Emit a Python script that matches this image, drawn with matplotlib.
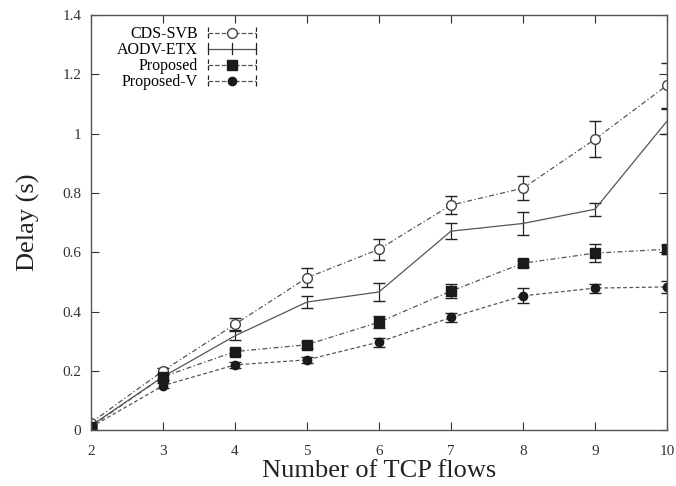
import matplotlib
matplotlib.use('Agg')
import matplotlib.pyplot as plt
from matplotlib.lines import Line2D
from matplotlib.legend_handler import HandlerBase

plt.rcParams['font.family'] = ['Liberation Serif', 'DejaVu Serif']

flows = [2, 3, 4, 5, 6, 7, 8, 9, 10]

cds_svb = [0.025, 0.20, 0.357, 0.514, 0.61, 0.759, 0.816, 0.981, 1.163]
cds_svb_err = [0.005, 0.01, 0.02, 0.032, 0.036, 0.03, 0.04, 0.06, 0.075]

aodv_etx = [0.015, 0.18, 0.318, 0.432, 0.466, 0.671, 0.697, 0.745, 1.042]
aodv_etx_err = [0.005, 0.01, 0.015, 0.02, 0.03, 0.027, 0.04, 0.022, 0.042]

proposed = [0.012, 0.18, 0.265, 0.288, 0.364, 0.469, 0.563, 0.597, 0.61]
proposed_err = [0.005, 0.01, 0.01, 0.01, 0.02, 0.025, 0.012, 0.03, 0.015]

proposed_v = [0.01, 0.15, 0.22, 0.237, 0.297, 0.38, 0.453, 0.479, 0.483]
proposed_v_err = [0.005, 0.008, 0.01, 0.01, 0.015, 0.015, 0.025, 0.015, 0.02]

labels = ['CDS-SVB', 'AODV-ETX', 'Proposed', 'Proposed-V']


# gnuplot style key: horizontal bar with caps at both ends, marker in the middle
class CapHandler(HandlerBase):
    def create_artists(self, legend, orig, xd, yd, width, height, fontsize, trans):
        y = yd + height / 2
        ls = orig.get_linestyle()
        line = Line2D([xd, xd + width], [y, y], color=orig.get_color(), ls=ls, lw=orig.get_linewidth())
        c1 = Line2D([xd, xd], [y - 4, y + 4], color='#222222', lw=0.9, ls=ls)
        c2 = Line2D([xd + width, xd + width], [y - 4, y + 4], color='#222222', lw=0.9, ls=ls)
        mk = Line2D([xd + width / 2], [y], marker=orig.get_marker(), ms=orig.get_markersize(),
                    mfc=orig.get_markerfacecolor(), mec=orig.get_markeredgecolor(), ls='none')
        if orig.get_marker() in (None, 'None', ''):
            mk = Line2D([xd + width / 2, xd + width / 2], [y - 4, y + 4], color='#222222', lw=0.9)
        arts = [line, c1, c2, mk]
        for a in arts:
            a.set_transform(trans)
        return arts


fig = plt.figure(figsize=(6.76, 4.86), dpi=100)
ax = fig.add_axes([0.1346, 0.115, 0.852, 0.854])

line_col = '#555555'
styles = [
    dict(ls=(0, (4, 2, 1, 2)), marker='o', mfc='white', mec='#444444', ms=7),
    dict(ls='-', marker='None', mfc='none', mec='none', ms=0),
    dict(ls=(0, (4, 2, 1, 2)), marker='s', mfc='#1a1a1a', mec='#1a1a1a', ms=7),
    dict(ls=(0, (3, 2)), marker='o', mfc='#1a1a1a', mec='#1a1a1a', ms=6),
]
series = [(cds_svb, cds_svb_err), (aodv_etx, aodv_etx_err),
          (proposed, proposed_err), (proposed_v, proposed_v_err)]

handles = []
for (vals, err), st, lab in zip(series, styles, labels):
    eb = ax.errorbar(flows, vals, yerr=err, color=line_col, lw=0.9, capsize=4,
                     elinewidth=0.9, ecolor='#222222', **st)
    handles.append(eb.lines[0])

ax.set_xlim(2, 10)
ax.set_ylim(0, 1.4)
ax.set_xticks(flows)
ax.set_yticks([0, 0.2, 0.4, 0.6, 0.8, 1.0, 1.2, 1.4])
ax.set_yticklabels(['0', '0.2', '0.4', '0.6', '0.8', '1', '1.2', '1.4'])
ax.tick_params(direction='in', top=True, right=True, length=6, width=0.8,
               labelsize=11, colors='#333333', pad=7)
ax.tick_params(axis='x', pad=11)
for s in ax.spines.values():
    s.set_color('#555555')
    s.set_linewidth(1.0)

ax.set_xlabel('Number of TCP flows', fontsize=19, color='#222222', va='baseline')
ax.xaxis.set_label_coords(0.5, -0.113)
ax.set_ylabel('Delay (s)', fontsize=19, color='#222222')
ax.yaxis.set_label_coords(-0.088, 0.5)

ax.legend(handles, labels, handler_map={Line2D: CapHandler()},
          loc='upper left', bbox_to_anchor=(0.026, 1.0), frameon=False, markerfirst=False,
          fontsize=11.5, handlelength=3.0, labelspacing=0.0, borderaxespad=0.3, handletextpad=0.6)

fig.savefig('out.png', dpi=100)
